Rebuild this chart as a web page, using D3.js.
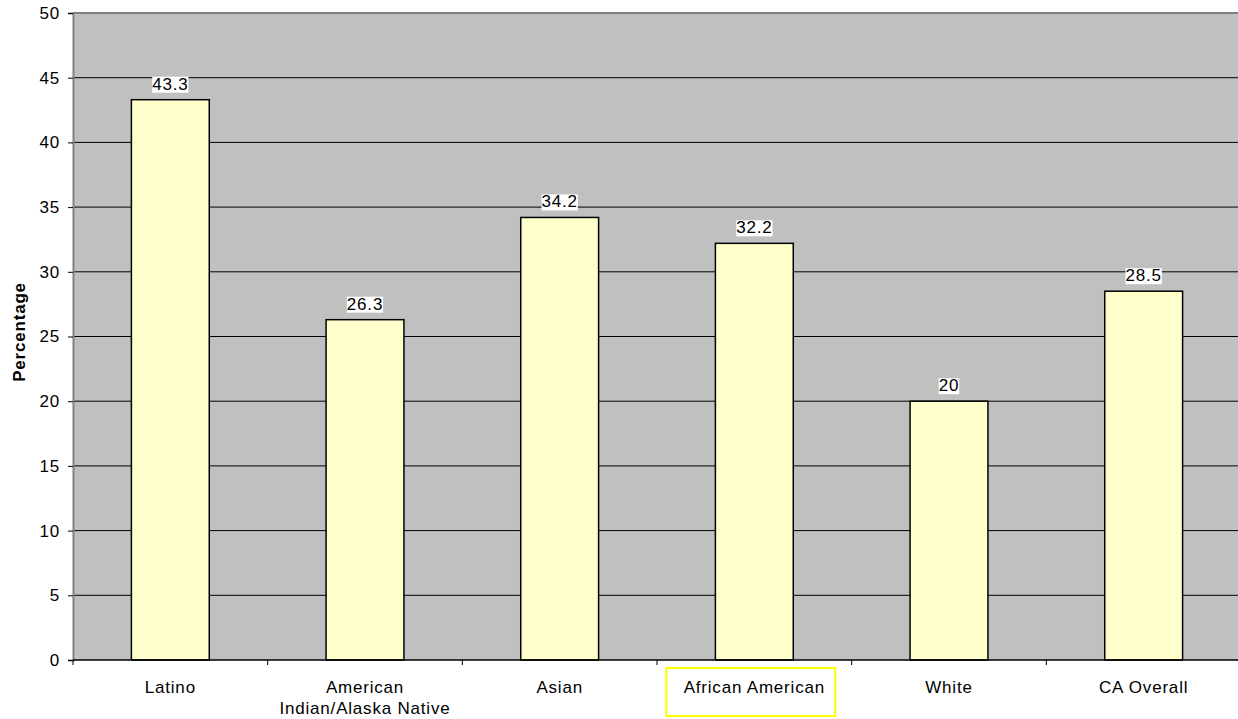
<!DOCTYPE html>
<html lang="en">
<head>
<meta charset="UTF-8">
<title>Percentage by group</title>
<style>
    body { margin: 0; background: #fff; font-family: Arial, "Liberation Sans", sans-serif; }
    svg { display: block; }
    svg text { letter-spacing: 0.8px; }
</style>
</head>
<body>
<svg id="chart" width="1238" height="719"></svg>
<script src="https://d3js.org/d3.v7.min.js"></script>
<script>
    // chart data
    const categories = ["Latino", "American\nIndian/Alaska Native", "Asian", "African American", "White", "CA Overall"];
    const values = [43.3, 26.3, 34.2, 32.2, 20, 28.5];
    const yTicks = [0, 5, 10, 15, 20, 25, 30, 35, 40, 45, 50];
    const highlighted = "African American";

    const svg = d3.select("#chart");
    const plotLeft = 73, plotRight = 1241, plotTop = 13, plotBottom = 660;
    const fontSize = 17;

    const x = d3.scaleBand().domain(categories).range([plotLeft, plotRight]).paddingInner(0).paddingOuter(0);
    const y = d3.scaleLinear().domain([0, 50]).range([plotBottom, plotTop]);

    // plot background
    svg.append("rect")
        .attr("x", plotLeft).attr("y", plotTop)
        .attr("width", plotRight - plotLeft).attr("height", plotBottom - plotTop)
        .attr("fill", "#c0c0c0");

    // gridlines
    svg.append("g").selectAll("line")
        .data(yTicks.filter(d => d > 0 && d < 50))
        .enter().append("line")
        .attr("x1", plotLeft).attr("x2", plotRight)
        .attr("y1", d => y(d)).attr("y2", d => y(d))
        .attr("stroke", "#000").attr("stroke-width", 1);

    // top border
    svg.append("line")
        .attr("x1", plotLeft).attr("x2", plotRight)
        .attr("y1", plotTop).attr("y2", plotTop)
        .attr("stroke", "#808080").attr("stroke-width", 2);

    // bars
    const barW = x.bandwidth() * 0.4;
    svg.append("g").selectAll("rect")
        .data(values)
        .enter().append("rect")
        .attr("x", (d, i) => x(categories[i]) + (x.bandwidth() - barW) / 2)
        .attr("y", d => y(d))
        .attr("width", barW)
        .attr("height", d => plotBottom - y(d))
        .attr("fill", "#ffffcc")
        .attr("stroke", "#000")
        .attr("stroke-width", 1.5);

    // value labels with white boxes
    const lbl = svg.append("g").selectAll("g")
        .data(values)
        .enter().append("g");
    lbl.append("text")
        .attr("x", (d, i) => x(categories[i]) + x.bandwidth() / 2)
        .attr("y", d => y(d) - 10)
        .attr("text-anchor", "middle")
        .attr("font-size", fontSize)
        .text(d => d);
    lbl.each(function () {
        const t = d3.select(this).select("text");
        const b = t.node().getBBox();
        d3.select(this).insert("rect", "text")
            .attr("x", b.x).attr("y", b.y + 2)
            .attr("width", b.width).attr("height", b.height - 3)
            .attr("fill", "#fff");
    });

    // y axis
    const yAxis = svg.append("g")
        .attr("transform", `translate(${plotLeft},0)`)
        .call(d3.axisLeft(y).tickValues(yTicks).tickSize(5).tickPadding(8));
    yAxis.select(".domain").attr("stroke", "#808080").attr("stroke-width", 2);
    yAxis.selectAll(".tick line").attr("stroke", "#000");
    yAxis.selectAll(".tick text")
        .attr("font-size", fontSize).attr("font-family", "Arial, 'Liberation Sans', sans-serif").attr("fill", "#000");

    // x axis
    const xAxis = svg.append("g")
        .attr("transform", `translate(0,${plotBottom})`);
    xAxis.append("line")
        .attr("x1", plotLeft).attr("x2", plotRight)
        .attr("stroke", "#000").attr("stroke-width", 1.5);
    xAxis.selectAll(".xt")
        .data(categories.map(c => x(c)))
        .enter().append("line")
        .attr("x1", d => d).attr("x2", d => d)
        .attr("y1", 0).attr("y2", 5)
        .attr("stroke", "#000");

    // category labels
    const cl = svg.append("g").selectAll("text")
        .data(categories)
        .enter().append("text")
        .attr("x", d => x(d) + x.bandwidth() / 2)
        .attr("y", 693)
        .attr("text-anchor", "middle")
        .attr("font-size", fontSize);
    cl.each(function (d) {
        const lines = d.split("\n");
        d3.select(this).selectAll("tspan")
            .data(lines).enter().append("tspan")
            .attr("x", x(d) + x.bandwidth() / 2)
            .attr("dy", (l, i) => i === 0 ? 0 : 21)
            .text(l => l);
    });

    // highlight box around one category label
    const hx = x(highlighted) + x.bandwidth() / 2;
    svg.append("rect")
        .attr("x", hx - 88).attr("y", 668)
        .attr("width", 169).attr("height", 48)
        .attr("fill", "none")
        .attr("stroke", "#ffff00").attr("stroke-width", 2);

    // y axis title
    svg.append("text")
        .attr("transform", "translate(25,332) rotate(-90)")
        .attr("text-anchor", "middle")
        .attr("font-size", fontSize)
        .attr("font-weight", "bold")
        .text("Percentage");
</script>
</body>
</html>
